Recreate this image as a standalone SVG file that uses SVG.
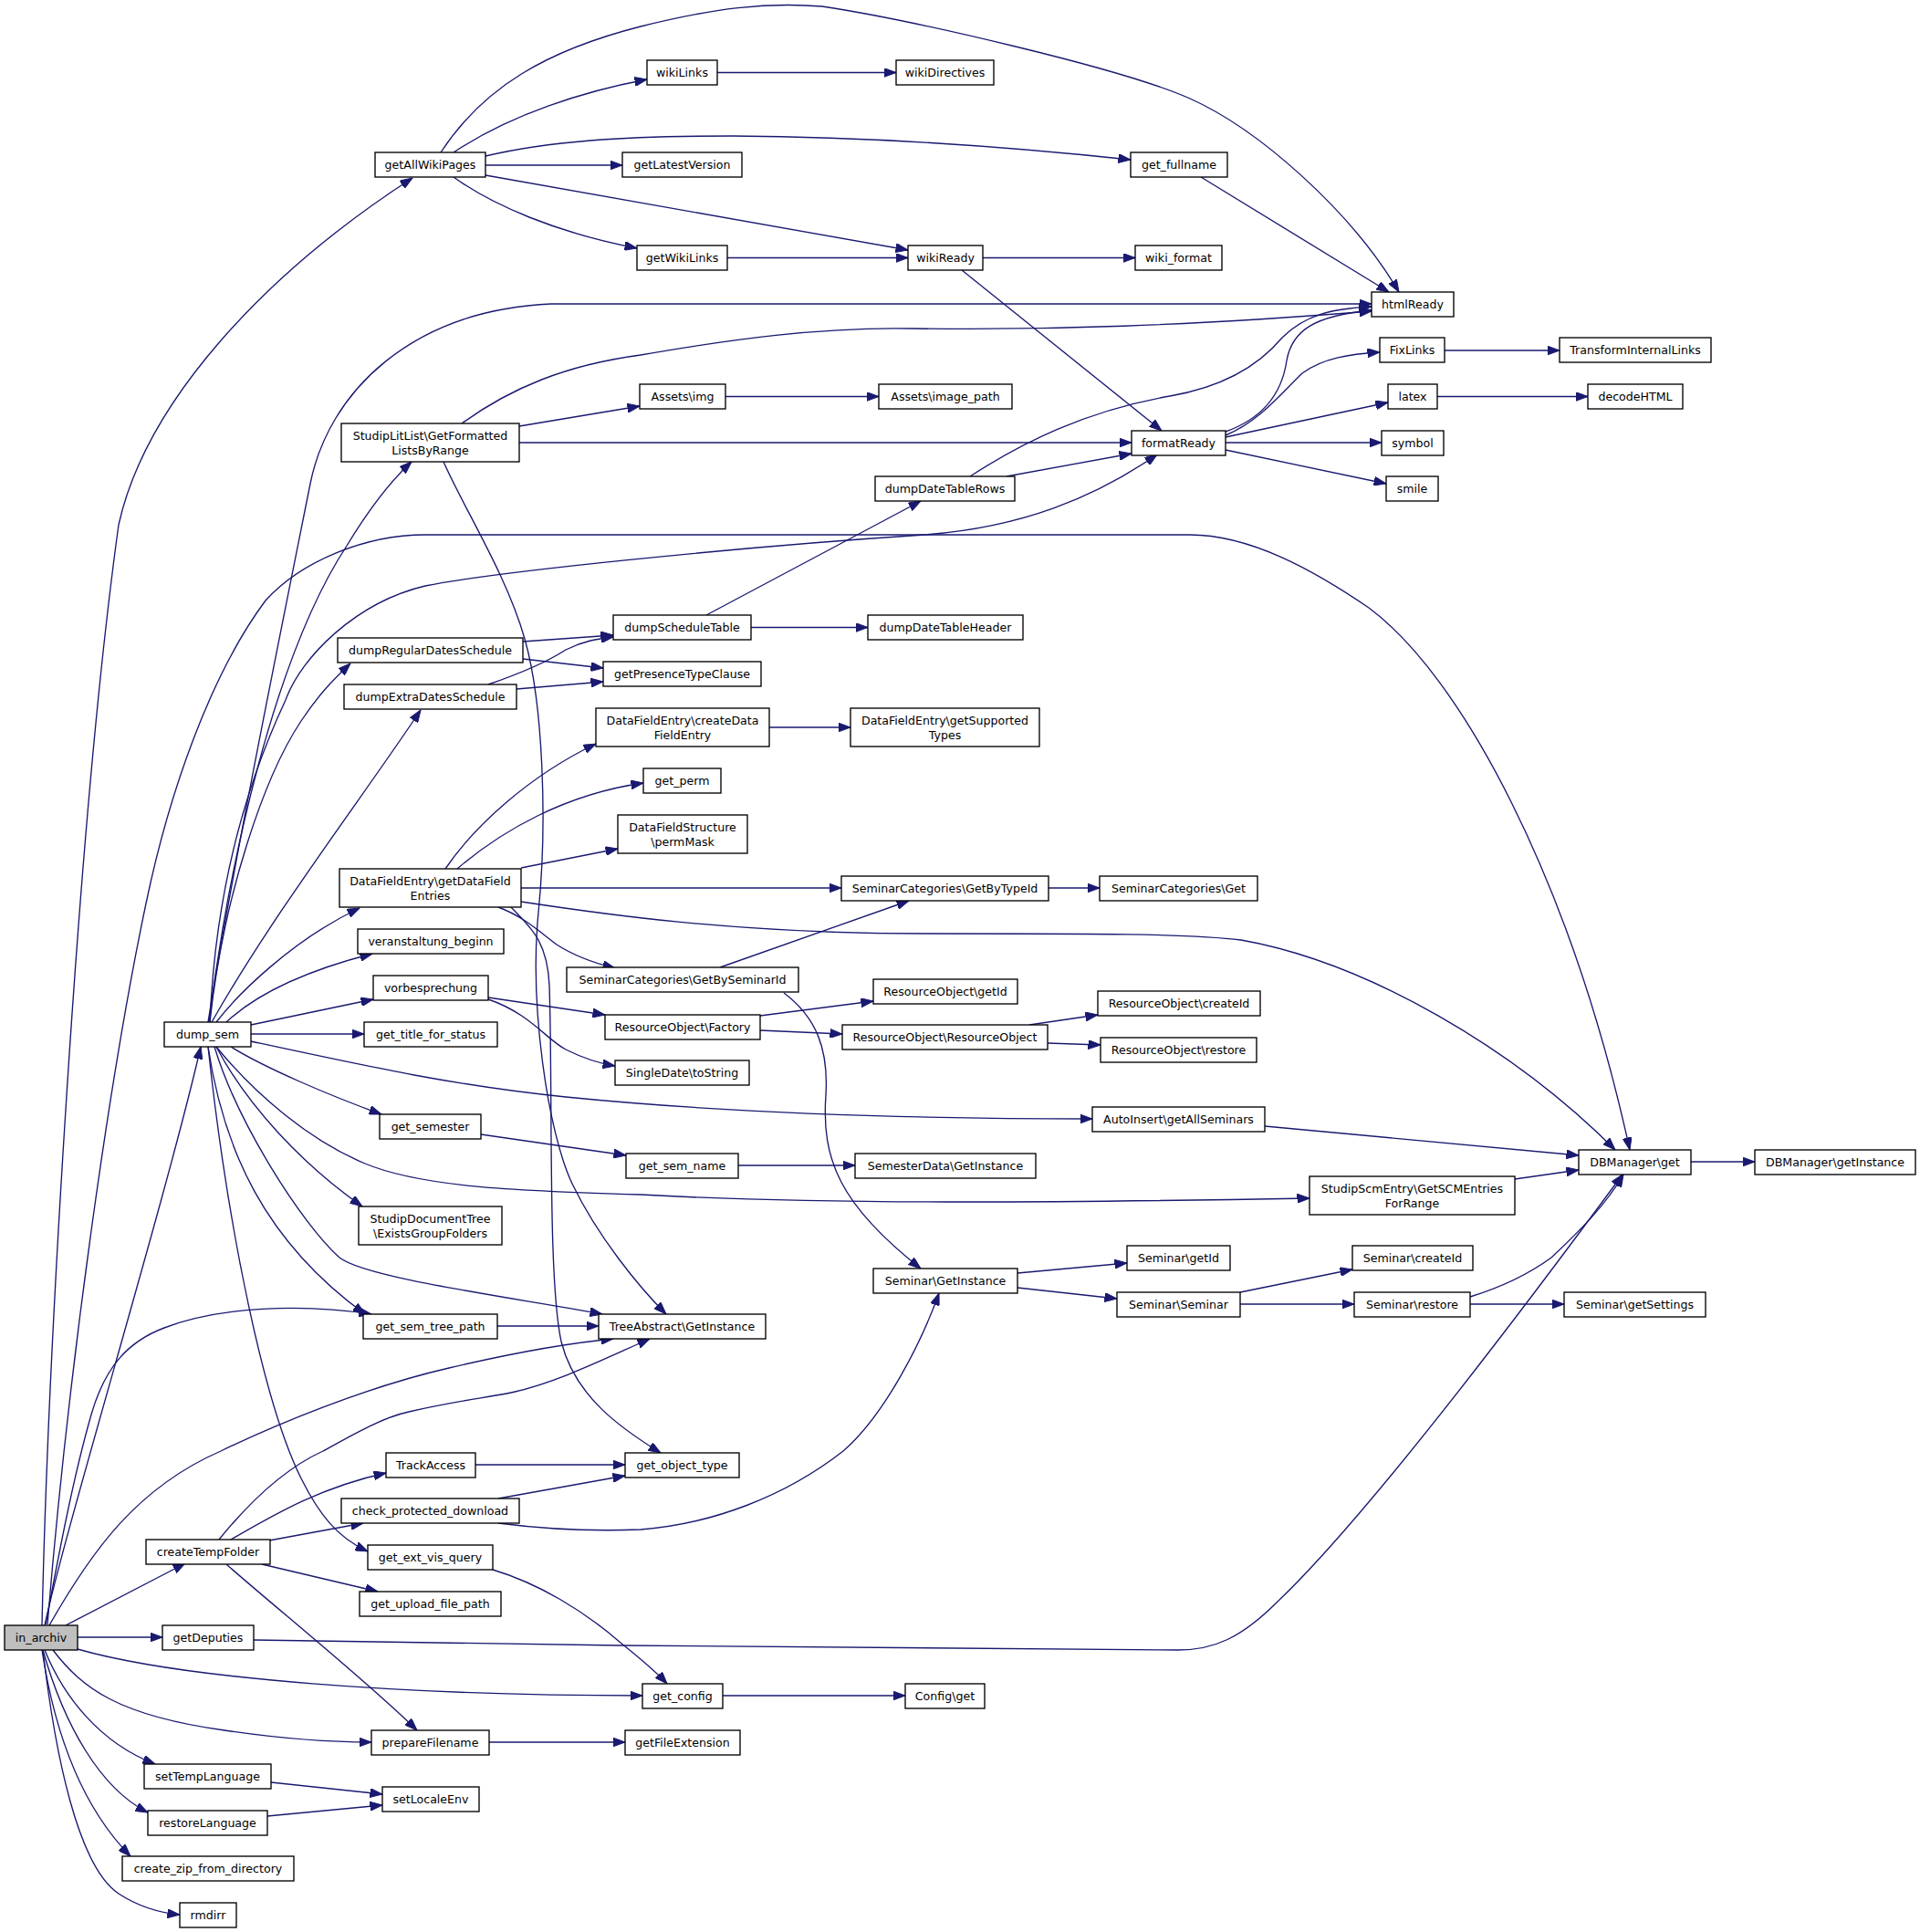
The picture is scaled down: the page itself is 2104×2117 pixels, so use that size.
<svg xmlns="http://www.w3.org/2000/svg" width="2104" height="2117" viewBox="0 0 2104 2117">
<defs>
<marker id="a" markerUnits="userSpaceOnUse" markerWidth="14" markerHeight="10" refX="13.5" refY="5" orient="auto" viewBox="0 0 14 10"><path d="M0,0 L13.5,5 L0,10 z" fill="#191970" stroke="#191970" stroke-width="1"/></marker>
</defs>
<style>
.n rect{fill:#fff;stroke:#000;stroke-width:1.35}
.n text{font-family:"DejaVu Sans","Liberation Sans",sans-serif;font-size:12.6px;text-anchor:middle;fill:#000}
#n_in_archiv rect{fill:#bfbfbf}
.e path{fill:none;stroke:#191970;stroke-width:1.35;marker-end:url(#a)}
</style>
<rect width="2104" height="2117" fill="#fff"/>
<g id="edges" class="e">
<path d="M46,1781 C52,1500 85,900 130,575 C160,440 290,300 452,195"/>
<path d="M49,1781 C70,1680 180,1320 220,1147"/>
<path d="M50,1780 C65,1700 80,1620 100,1550 C115,1498 140,1470 180,1455 C240,1432 330,1428 407,1440"/>
<path d="M54,1781 C100,1700 150,1630 242,1590 C300,1562 400,1520 492,1499 C560,1483 620,1472 672,1467"/>
<path d="M72,1781 L203,1713"/>
<path d="M85,1794 L178,1794"/>
<path d="M85,1807 C200,1840 450,1858 704,1858"/>
<path d="M58,1808 C90,1850 130,1880 246,1896 C300,1904 360,1909 407,1909"/>
<path d="M49,1808 C70,1860 110,1910 170,1933"/>
<path d="M47,1808 C70,1890 110,1960 162,1986"/>
<path d="M46,1808 C60,1900 90,1980 143,2034"/>
<path d="M47,1808 C60,1920 85,2045 130,2075 C150,2088 175,2096 197,2098"/>
<path d="M52,1780 C75,1500 120,1180 160,990 C185,870 230,740 291,658 C330,615 400,586 466,586 L1304,586 C1370,586 1440,625 1500,666 C1600,740 1720,960 1786,1260"/>
<path d="M228,1120 C255,950 310,680 340,530 C360,430 450,340 604,333 L1503,333"/>
<path d="M229,1120 C250,950 300,720 380,598 C400,565 425,530 451,506"/>
<path d="M230,1120 C235,1000 260,880 313,767 C330,720 390,660 466,642 C540,627 800,600 1013,586 C1120,578 1200,545 1268,498"/>
<path d="M230,1120 C245,980 290,850 330,790 C350,760 365,745 384,727"/>
<path d="M232,1120 C300,1000 400,870 461,778"/>
<path d="M237,1120 C260,1090 320,1030 394,995"/>
<path d="M248,1120 C280,1090 330,1065 408,1045"/>
<path d="M275,1123 L409,1095"/>
<path d="M275,1133 L399,1133"/>
<path d="M275,1141 C400,1168 500,1190 620,1202 C800,1220 1000,1226 1197,1226"/>
<path d="M253,1147 C290,1170 360,1200 418,1221"/>
<path d="M237,1147 C280,1200 340,1250 400,1275 C460,1300 560,1305 702,1309 C900,1320 1150,1318 1435,1313"/>
<path d="M237,1147 C270,1210 330,1275 397,1322"/>
<path d="M228,1147 C245,1260 290,1360 400,1440"/>
<path d="M235,1147 C260,1230 330,1340 372,1378 C400,1400 550,1420 660,1440"/>
<path d="M228,1147 C250,1350 290,1540 330,1620 C350,1660 370,1685 403,1700"/>
<path d="M483,167 C530,95 600,55 702,29 C782,9 840,2 901,7 C1000,22 1230,75 1304,108 C1378,141 1480,230 1533,320"/>
<path d="M497,167 C560,125 640,100 709,87"/>
<path d="M532,181 L682,181"/>
<path d="M532,171 C600,155 680,149 803,149 C950,150 1100,160 1239,175"/>
<path d="M532,192 L995,274"/>
<path d="M497,194 C540,225 610,255 698,272"/>
<path d="M786,79.5 L982,79.5"/>
<path d="M797,282.5 L995,282.5"/>
<path d="M1077,282.5 L1244,282.5"/>
<path d="M1054,296 L1273,472"/>
<path d="M1316,194 L1522,320"/>
<path d="M506,464 C560,425 620,400 702,389 C800,372 900,358 1000,360 C1150,362 1300,357 1503,341"/>
<path d="M569,467 L701,445"/>
<path d="M569,485 L1240,485"/>
<path d="M486,506 C510,560 555,630 575,700 C595,770 600,900 590,1000 C580,1100 600,1240 627,1297 C655,1355 700,1410 730,1440"/>
<path d="M795,434.5 L963,434.5"/>
<path d="M1343,473 C1385,458 1405,430 1410,395 C1416,362 1440,346 1503,340"/>
<path d="M1343,477 C1380,462 1405,430 1427,409 C1450,392 1480,388 1512,386"/>
<path d="M1343,479 L1521,441"/>
<path d="M1343,485 L1514,485"/>
<path d="M1343,493 L1519,530"/>
<path d="M1583,384 L1709,384"/>
<path d="M1575,434.5 L1740,434.5"/>
<path d="M1103,522 L1240,497"/>
<path d="M1063,522 C1120,485 1190,450 1282,434 C1340,424 1380,400 1405,370 C1430,345 1460,338 1503,336"/>
<path d="M774,674 L1009,549"/>
<path d="M823,687.5 L951,687.5"/>
<path d="M573,703 L672,696"/>
<path d="M573,722 L661,732"/>
<path d="M535,750 C570,738 600,725 620,712 C640,702 655,700 672,698"/>
<path d="M566,755 L661,747"/>
<path d="M488,952 C520,905 580,850 653,815"/>
<path d="M501,952 C550,910 620,870 705,858"/>
<path d="M571,951 L677,930"/>
<path d="M571,973 L922,973"/>
<path d="M571,988 C650,1000 800,1023 1013,1023 C1200,1023 1304,1023 1360,1030 C1500,1055 1660,1150 1770,1260"/>
<path d="M546,994 C575,1005 590,1020 610,1035 C630,1048 650,1055 674,1061"/>
<path d="M560,994 C580,1015 600,1030 602,1080 C606,1200 600,1400 615,1470 C630,1530 680,1565 724,1592"/>
<path d="M843,797 L932,797"/>
<path d="M1149,973 L1205,973"/>
<path d="M789,1060 L996,987"/>
<path d="M859,1088 C895,1115 908,1150 905,1200 C900,1270 920,1320 1009,1390"/>
<path d="M535,1093 L663,1112"/>
<path d="M535,1095 C580,1110 600,1140 620,1150 C640,1160 655,1165 674,1168"/>
<path d="M833,1113 L957,1097"/>
<path d="M833,1129 L923,1133"/>
<path d="M1128,1123 L1203,1112"/>
<path d="M1148,1143 L1206,1145"/>
<path d="M527,1243 L686,1266"/>
<path d="M809,1277 L937,1277"/>
<path d="M1386,1234 L1730,1266"/>
<path d="M1660,1292 L1730,1282"/>
<path d="M1853,1273 L1923,1273"/>
<path d="M1115,1395 L1235,1384"/>
<path d="M1115,1411 L1224,1423"/>
<path d="M1359,1416 L1482,1391"/>
<path d="M1359,1429 L1484,1429"/>
<path d="M1611,1429 L1714,1429"/>
<path d="M1611,1421 C1640,1412 1670,1400 1700,1378 C1730,1350 1760,1320 1779,1287"/>
<path d="M545,1453 L656,1453"/>
<path d="M240,1687 C270,1650 310,1610 354,1590 C390,1570 420,1553 448,1547 C500,1535 530,1532 560,1526 C610,1515 660,1490 712,1467"/>
<path d="M253,1687 C300,1660 350,1630 423,1614"/>
<path d="M295,1688 L398,1669"/>
<path d="M287,1714 L414,1744"/>
<path d="M248,1714 C300,1760 400,1840 457,1896"/>
<path d="M521,1605 L685,1605"/>
<path d="M546,1642 L685,1617"/>
<path d="M546,1669 C600,1676 650,1678 702,1676 C780,1670 860,1640 924,1590 C970,1550 1010,1470 1029,1417"/>
<path d="M540,1720 C590,1735 640,1765 680,1800 C705,1820 720,1833 731,1845"/>
<path d="M278,1797 C600,1803 1100,1808 1291,1808 C1330,1808 1360,1795 1400,1755 C1500,1660 1680,1420 1778,1287"/>
<path d="M792,1858 L992,1858"/>
<path d="M536,1909 L685,1909"/>
<path d="M297,1953 L419,1966"/>
<path d="M293,1990 L419,1978"/>
</g>
<g id="n_in_archiv" class="n"><rect x="5" y="1781" width="80" height="27"/><text x="45" y="1799">in_archiv</text></g>
<g id="n_getAllWikiPages" class="n"><rect x="411" y="167" width="121" height="27"/><text x="471.5" y="185">getAllWikiPages</text></g>
<g id="n_wikiLinks" class="n"><rect x="709" y="66" width="77" height="27"/><text x="747.5" y="84">wikiLinks</text></g>
<g id="n_wikiDirectives" class="n"><rect x="982" y="66" width="107" height="27"/><text x="1035.5" y="84">wikiDirectives</text></g>
<g id="n_getLatestVersion" class="n"><rect x="682" y="167" width="131" height="27"/><text x="747.5" y="185">getLatestVersion</text></g>
<g id="n_get_fullname" class="n"><rect x="1239" y="167" width="106" height="27"/><text x="1292" y="185">get_fullname</text></g>
<g id="n_getWikiLinks" class="n"><rect x="698" y="269" width="99" height="27"/><text x="747.5" y="287">getWikiLinks</text></g>
<g id="n_wikiReady" class="n"><rect x="995" y="269" width="82" height="27"/><text x="1036" y="287">wikiReady</text></g>
<g id="n_wiki_format" class="n"><rect x="1244" y="269" width="95" height="27"/><text x="1291.5" y="287">wiki_format</text></g>
<g id="n_htmlReady" class="n"><rect x="1503" y="320" width="90" height="27"/><text x="1548" y="338">htmlReady</text></g>
<g id="n_FixLinks" class="n"><rect x="1512" y="370" width="71" height="27"/><text x="1547.5" y="388">FixLinks</text></g>
<g id="n_TransformInternalLinks" class="n"><rect x="1709" y="370" width="166" height="27"/><text x="1792" y="388">TransformInternalLinks</text></g>
<g id="n_latex" class="n"><rect x="1521" y="421" width="54" height="27"/><text x="1548" y="439">latex</text></g>
<g id="n_decodeHTML" class="n"><rect x="1740" y="421" width="104" height="27"/><text x="1792" y="439">decodeHTML</text></g>
<g id="n_Assets_img" class="n"><rect x="701" y="421" width="94" height="27"/><text x="748" y="439">Assets\img</text></g>
<g id="n_Assets_image_path" class="n"><rect x="963" y="421" width="146" height="27"/><text x="1036" y="439">Assets\image_path</text></g>
<g id="n_StudipLitList" class="n"><rect x="374" y="464" width="195" height="42"/><text x="471.5" y="481.5">StudipLitList\GetFormatted</text><text x="471.5" y="497.5">ListsByRange</text></g>
<g id="n_formatReady" class="n"><rect x="1240" y="472" width="103" height="27"/><text x="1291.5" y="490">formatReady</text></g>
<g id="n_symbol" class="n"><rect x="1514" y="472" width="68" height="27"/><text x="1548" y="490">symbol</text></g>
<g id="n_smile" class="n"><rect x="1519" y="522" width="57" height="27"/><text x="1547.5" y="540">smile</text></g>
<g id="n_dumpDateTableRows" class="n"><rect x="959" y="522" width="153" height="27"/><text x="1035.5" y="540">dumpDateTableRows</text></g>
<g id="n_dumpScheduleTable" class="n"><rect x="672" y="674" width="151" height="27"/><text x="747.5" y="692">dumpScheduleTable</text></g>
<g id="n_dumpDateTableHeader" class="n"><rect x="951" y="674" width="170" height="27"/><text x="1036" y="692">dumpDateTableHeader</text></g>
<g id="n_dumpRegularDatesSchedule" class="n"><rect x="370" y="699" width="203" height="27"/><text x="471.5" y="717">dumpRegularDatesSchedule</text></g>
<g id="n_getPresenceTypeClause" class="n"><rect x="661" y="725" width="173" height="27"/><text x="747.5" y="743">getPresenceTypeClause</text></g>
<g id="n_dumpExtraDatesSchedule" class="n"><rect x="377" y="750" width="189" height="27"/><text x="471.5" y="768">dumpExtraDatesSchedule</text></g>
<g id="n_createDataFieldEntry" class="n"><rect x="653" y="776" width="190" height="42"/><text x="748" y="793.5">DataFieldEntry\createData</text><text x="748" y="809.5">FieldEntry</text></g>
<g id="n_getSupportedTypes" class="n"><rect x="932" y="776" width="207" height="42"/><text x="1035.5" y="793.5">DataFieldEntry\getSupported</text><text x="1035.5" y="809.5">Types</text></g>
<g id="n_get_perm" class="n"><rect x="705" y="842" width="85" height="27"/><text x="747.5" y="860">get_perm</text></g>
<g id="n_permMask" class="n"><rect x="677" y="893" width="142" height="42"/><text x="748" y="910.5">DataFieldStructure</text><text x="748" y="926.5">\permMask</text></g>
<g id="n_getDataFieldEntries" class="n"><rect x="372" y="952" width="199" height="42"/><text x="471.5" y="969.5">DataFieldEntry\getDataField</text><text x="471.5" y="985.5">Entries</text></g>
<g id="n_GetByTypeId" class="n"><rect x="922" y="960" width="227" height="27"/><text x="1035.5" y="978">SeminarCategories\GetByTypeId</text></g>
<g id="n_SeminarCategories_Get" class="n"><rect x="1205" y="960" width="173" height="27"/><text x="1291.5" y="978">SeminarCategories\Get</text></g>
<g id="n_veranstaltung_beginn" class="n"><rect x="392" y="1018" width="160" height="27"/><text x="472" y="1036">veranstaltung_beginn</text></g>
<g id="n_GetBySeminarId" class="n"><rect x="621" y="1060" width="254" height="27"/><text x="748" y="1078">SeminarCategories\GetBySeminarId</text></g>
<g id="n_vorbesprechung" class="n"><rect x="409" y="1069" width="126" height="27"/><text x="472" y="1087">vorbesprechung</text></g>
<g id="n_RO_getId" class="n"><rect x="957" y="1073" width="158" height="27"/><text x="1036" y="1091">ResourceObject\getId</text></g>
<g id="n_RO_createId" class="n"><rect x="1203" y="1086" width="178" height="27"/><text x="1292" y="1104">ResourceObject\createId</text></g>
<g id="n_RO_Factory" class="n"><rect x="663" y="1112" width="170" height="27"/><text x="748" y="1130">ResourceObject\Factory</text></g>
<g id="n_RO_ResourceObject" class="n"><rect x="923" y="1123" width="225" height="27"/><text x="1035.5" y="1141">ResourceObject\ResourceObject</text></g>
<g id="n_RO_restore" class="n"><rect x="1206" y="1137" width="171" height="27"/><text x="1291.5" y="1155">ResourceObject\restore</text></g>
<g id="n_dump_sem" class="n"><rect x="180" y="1120" width="95" height="27"/><text x="227.5" y="1138">dump_sem</text></g>
<g id="n_get_title_for_status" class="n"><rect x="399" y="1120" width="146" height="27"/><text x="472" y="1138">get_title_for_status</text></g>
<g id="n_SingleDate_toString" class="n"><rect x="674" y="1162" width="147" height="27"/><text x="747.5" y="1180">SingleDate\toString</text></g>
<g id="n_AutoInsert" class="n"><rect x="1197" y="1213" width="189" height="27"/><text x="1291.5" y="1231">AutoInsert\getAllSeminars</text></g>
<g id="n_get_semester" class="n"><rect x="416" y="1221" width="111" height="27"/><text x="471.5" y="1239">get_semester</text></g>
<g id="n_get_sem_name" class="n"><rect x="686" y="1264" width="123" height="27"/><text x="747.5" y="1282">get_sem_name</text></g>
<g id="n_SemesterData" class="n"><rect x="937" y="1264" width="198" height="27"/><text x="1036" y="1282">SemesterData\GetInstance</text></g>
<g id="n_DBManager_get" class="n"><rect x="1730" y="1260" width="123" height="27"/><text x="1791.5" y="1278">DBManager\get</text></g>
<g id="n_DBManager_getInstance" class="n"><rect x="1923" y="1260" width="176" height="27"/><text x="2011" y="1278">DBManager\getInstance</text></g>
<g id="n_StudipScmEntry" class="n"><rect x="1435" y="1289" width="225" height="42"/><text x="1547.5" y="1306.5">StudipScmEntry\GetSCMEntries</text><text x="1547.5" y="1322.5">ForRange</text></g>
<g id="n_StudipDocumentTree" class="n"><rect x="393" y="1322" width="157" height="42"/><text x="471.5" y="1339.5">StudipDocumentTree</text><text x="471.5" y="1355.5">\ExistsGroupFolders</text></g>
<g id="n_Seminar_getId" class="n"><rect x="1235" y="1365" width="113" height="27"/><text x="1291.5" y="1383">Seminar\getId</text></g>
<g id="n_Seminar_createId" class="n"><rect x="1482" y="1365" width="132" height="27"/><text x="1548" y="1383">Seminar\createId</text></g>
<g id="n_Seminar_GetInstance" class="n"><rect x="957" y="1390" width="158" height="27"/><text x="1036" y="1408">Seminar\GetInstance</text></g>
<g id="n_Seminar_Seminar" class="n"><rect x="1224" y="1416" width="135" height="27"/><text x="1291.5" y="1434">Seminar\Seminar</text></g>
<g id="n_Seminar_restore" class="n"><rect x="1484" y="1416" width="127" height="27"/><text x="1547.5" y="1434">Seminar\restore</text></g>
<g id="n_Seminar_getSettings" class="n"><rect x="1714" y="1416" width="155" height="27"/><text x="1791.5" y="1434">Seminar\getSettings</text></g>
<g id="n_get_sem_tree_path" class="n"><rect x="398" y="1440" width="147" height="27"/><text x="471.5" y="1458">get_sem_tree_path</text></g>
<g id="n_TreeAbstract" class="n"><rect x="656" y="1440" width="183" height="27"/><text x="747.5" y="1458">TreeAbstract\GetInstance</text></g>
<g id="n_TrackAccess" class="n"><rect x="423" y="1592" width="98" height="27"/><text x="472" y="1610">TrackAccess</text></g>
<g id="n_get_object_type" class="n"><rect x="685" y="1592" width="125" height="27"/><text x="747.5" y="1610">get_object_type</text></g>
<g id="n_check_protected_download" class="n"><rect x="374" y="1642" width="195" height="27"/><text x="471.5" y="1660">check_protected_download</text></g>
<g id="n_createTempFolder" class="n"><rect x="160" y="1687" width="136" height="27"/><text x="228" y="1705">createTempFolder</text></g>
<g id="n_get_ext_vis_query" class="n"><rect x="403" y="1693" width="137" height="27"/><text x="471.5" y="1711">get_ext_vis_query</text></g>
<g id="n_get_upload_file_path" class="n"><rect x="394" y="1744" width="155" height="27"/><text x="471.5" y="1762">get_upload_file_path</text></g>
<g id="n_getDeputies" class="n"><rect x="178" y="1781" width="100" height="27"/><text x="228" y="1799">getDeputies</text></g>
<g id="n_get_config" class="n"><rect x="704" y="1845" width="88" height="27"/><text x="748" y="1863">get_config</text></g>
<g id="n_Config_get" class="n"><rect x="992" y="1845" width="87" height="27"/><text x="1035.5" y="1863">Config\get</text></g>
<g id="n_prepareFilename" class="n"><rect x="407" y="1896" width="129" height="27"/><text x="471.5" y="1914">prepareFilename</text></g>
<g id="n_getFileExtension" class="n"><rect x="685" y="1896" width="126" height="27"/><text x="748" y="1914">getFileExtension</text></g>
<g id="n_setTempLanguage" class="n"><rect x="158" y="1933" width="139" height="27"/><text x="227.5" y="1951">setTempLanguage</text></g>
<g id="n_setLocaleEnv" class="n"><rect x="419" y="1958" width="106" height="27"/><text x="472" y="1976">setLocaleEnv</text></g>
<g id="n_restoreLanguage" class="n"><rect x="162" y="1984" width="131" height="27"/><text x="227.5" y="2002">restoreLanguage</text></g>
<g id="n_create_zip_from_directory" class="n"><rect x="134" y="2034" width="188" height="27"/><text x="228" y="2052">create_zip_from_directory</text></g>
<g id="n_rmdirr" class="n"><rect x="197" y="2085" width="62" height="27"/><text x="228" y="2103">rmdirr</text></g>
</svg>
